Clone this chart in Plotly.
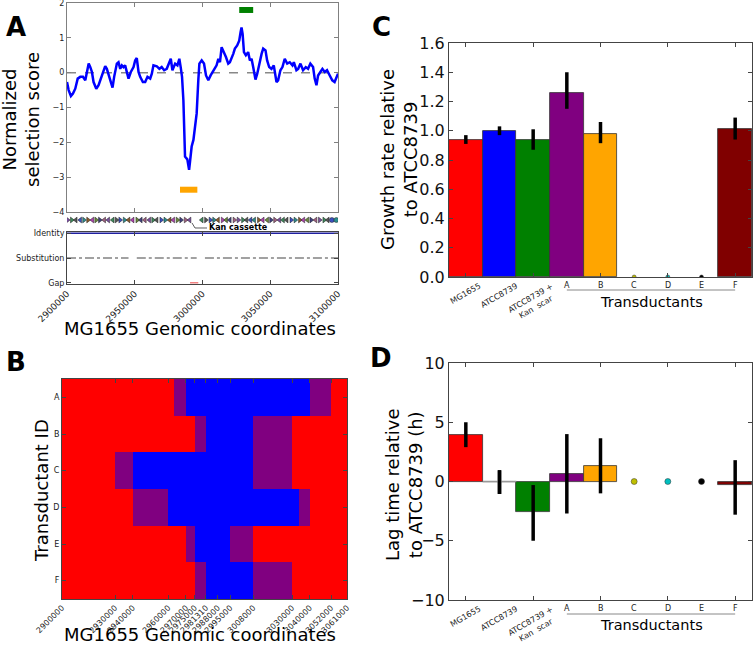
import plotly.graph_objects as go

W, H = 754, 645
FONT = "DejaVu Sans"

# ---------------- panel A: normalized selection score along the genome
score_pos = [2900000, 2901200, 2902900, 2904400, 2906100, 2907900, 2909800, 2911800, 2913500, 2914700,
             2916000, 2917200, 2918400, 2919600, 2921600, 2923300, 2925800, 2928200, 2929400, 2931400,
             2933600, 2934800, 2936800, 2938000, 2939300, 2940500, 2941700, 2942900, 2944200, 2945400,
             2947100, 2949100, 2950300, 2951500, 2952800, 2954000, 2956000, 2957700, 2959400, 2961400,
             2962600, 2963800, 2966300, 2968200, 2969900, 2971700, 2973600, 2975600, 2976600, 2977800,
             2979800, 2981500, 2982900, 2983900, 2984900, 2985900, 2986600, 2987100, 2988800, 2990100,
             2990800, 2992000, 2993300, 2994500, 2995700, 2996900, 2997700, 2999400, 3001100, 3002600,
             3004300, 3006000, 3008000, 3010400, 3011700, 3012900, 3014100, 3015800, 3017300, 3019000,
             3020200, 3022700, 3023900, 3025600, 3027100, 3028100, 3028800, 3029600, 3030600, 3032000,
             3033700, 3035000, 3036200, 3037400, 3039100, 3040400, 3041800, 3043600, 3044800, 3046500,
             3047700, 3049200, 3050900, 3052600, 3054600, 3055800, 3057500, 3059000, 3060700, 3062500,
             3064400, 3066400, 3067400, 3069300, 3070600, 3072300, 3074200, 3076200, 3077900, 3079600,
             3081600, 3082800, 3084100, 3085300, 3087000, 3088500, 3090200, 3091900, 3093900, 3095800,
             3097500, 3098800, 3100000]
score_val = [-0.27, -0.5, -0.67, -0.6, -0.46, -0.17, -0.12, -0.12, -0.22, 0.02,
             0.26, 0.16, 0.02, -0.27, -0.46, -0.36, -0.08, 0.19, 0.11, -0.12,
             -0.43, -0.12, 0.26, 0.3, 0.11, 0.21, 0.16, 0.21, 0.02, -0.17,
             0.02, 0.16, 0.35, 0.42, 0.02, -0.12, -0.27, -0.27, -0.12, -0.17,
             -0.03, 0.21, 0.18, 0.11, 0.16, 0.07, 0.11, 0.3, 0.4, 0.07,
             0.26, 0.21, 0.4, 0.16, -0.12, -0.79, -2.03, -2.41, -2.49, -2.79,
             -2.55, -2.12, -1.93, -1.55, -1.17, -0.22, 0.26, 0.35, 0.26, -0.08,
             -0.22, -0.08, 0.07, 0.21, 0.4, 0.3, 0.73, 0.59, 0.45, 0.26,
             0.3, 0.54, 0.69, 0.78, 0.92, 1.16, 1.3, 1.11, 0.59, 0.5,
             0.59, 0.35, 0.4, 0.16, -0.2, -0.03, 0.26, 0.54, 0.69, 0.64,
             0.35, 0.16, 0.11, 0.21, -0.27, -0.22, 0.07, 0.16, 0.4, 0.26,
             0.3, 0.21, 0.3, 0.07, 0.11, 0.26, 0.07, 0.16, 0.11, 0.26,
             0.16, -0.17, -0.36, -0.08, 0.02, 0.11, 0.02, 0.07, -0.08, -0.22,
             -0.27, -0.12, -0.03]

# regions marked above / below the curve
green_region = [3027100, 3037400]
green_level = 1.8
orange_region = [2983400, 2996200]
orange_level = -3.36

# gene track (kb offset from 2900000) and strand
gene_kb = [0.5, 3.5, 6.5, 9.8, 12.5, 15.5, 18.8, 21.5, 24.2, 27.5, 30.5, 33.8, 36.5, 39.2, 42.5,
           45.5, 48.5, 51.8, 54.5, 57.5, 60.8, 63.5, 66.2, 69.5, 72.5, 75.8, 78.5, 81.5, 84.2, 87.5,
           90.5, 99.5, 102.5, 105.8, 108.5, 111.5, 114.8, 117.5, 120.2, 123.5, 126.5, 129.8, 132.5,
           135.5, 138.2, 141.5, 144.5, 147.8, 150.5, 153.5, 156.8, 159.5, 162.2, 165.5, 168.5,
           171.8, 174.5, 177.5, 180.2, 183.5, 186.5, 189.8, 192.5, 195.5, 198.8]
gene_strand = ">><<>><>><<<>>><<><<<><>><<>>><<>>><><<>>><<<><<>><<<>>><<><>><"
gene_palette = ["#7a4fa0", "#3c8a5a", "#555555", "#3a4fc0", "#2a8c8c", "#8a5a2a", "#b040b0",
                "#6a8a3a", "#404080", "#a06080"]

# alignment track
subst_segments = [[2900000, 2945400], [2951500, 2995700], [3001800, 3100000]]
gap_segment = [2990800, 2996900]

# ---------------- panel B: transductant blocks
heat_edges = [2900000, 2930000, 2940000, 2960000, 2963000, 2970000, 2975000, 2981310, 2988000,
              2995000, 3008000, 3030000, 3034000, 3040000, 3052000, 3061000]
heat_ticks = [2900000, 2930000, 2940000, 2960000, 2970000, 2975000, 2981310, 2988000, 2995000,
              3008000, 3030000, 3040000, 3052000, 3061000]
transductants = ["A", "B", "C", "D", "E", "F"]
# 0 = MG1655 (red), 1 = ambiguous (purple), 2 = ATCC8739 (blue)
heat_state = [
    [0, 0, 0, 0, 1, 2, 2, 2, 2, 2, 2, 2, 2, 1, 0],
    [0, 0, 0, 0, 0, 0, 1, 2, 2, 2, 1, 0, 0, 0, 0],
    [0, 1, 2, 2, 2, 2, 2, 2, 2, 2, 1, 0, 0, 0, 0],
    [0, 0, 1, 2, 2, 2, 2, 2, 2, 2, 2, 2, 1, 0, 0],
    [0, 0, 0, 0, 0, 1, 2, 2, 2, 1, 0, 0, 0, 0, 0],
    [0, 0, 0, 0, 0, 0, 1, 2, 2, 2, 1, 0, 0, 0, 0],
]

# ---------------- panels C & D
strains = ["MG1655", "ATCC8739", "ATCC8739 +<br>Kan  scar", "A", "B", "C", "D", "E", "F"]
strain_colors = ["#ff0000", "#0000ff", "#008000", "#800080", "#ffa500", "#bfbf00", "#00bfbf",
                 "#000000", "#800000"]
growth = [0.94, 1.00, 0.94, 1.26, 0.98, 0.0, 0.0, 0.0, 1.01]
growth_hi = [0.03, 0.03, 0.07, 0.14, 0.08, 0, 0, 0, 0.08]
growth_lo = [0.03, 0.03, 0.07, 0.11, 0.065, 0, 0, 0, 0.07]
lag = [3.9, 0.0, -2.6, 0.65, 1.35, 0.0, 0.0, 0.0, -0.3]
lag_hi = [1.1, 0.95, 2.3, 3.35, 2.3, 0, 0, 0, 2.1]
lag_lo = [1.0, 1.05, 2.4, 3.35, 2.35, 0, 0, 0, 2.5]
no_growth = [5, 6, 7]  # C, D, E did not grow -> drawn as dots


def px(x):
    return x / W


def py(y):
    return 1 - y / H


fig = go.Figure()

# A: curve and markers
fig.add_trace(go.Scatter(x=[2900000, 3100000], y=[0, 0], mode="lines",
                         line=dict(color="#888888", width=1.5, dash="dash"), xaxis="x", yaxis="y"))
fig.add_trace(go.Scatter(x=score_pos, y=score_val, mode="lines",
                         line=dict(color="#0000ff", width=2.5), xaxis="x", yaxis="y"))
fig.add_trace(go.Scatter(x=green_region, y=[green_level] * 2, mode="lines",
                         line=dict(color="#008000", width=6), xaxis="x", yaxis="y"))
fig.add_trace(go.Scatter(x=orange_region, y=[orange_level] * 2, mode="lines",
                         line=dict(color="#ffa500", width=6), xaxis="x", yaxis="y"))

# A: gene track
gx = [2900000 + k * 1000 for k in gene_kb]
gsym = ["triangle-right" if s == ">" else "triangle-left" for s in gene_strand]
gcol = [gene_palette[i % len(gene_palette)] for i in range(len(gene_kb))]
fig.add_trace(go.Scatter(x=gx, y=[0] * len(gx), mode="markers",
                         marker=dict(symbol=gsym, size=5, color=gcol, line=dict(color="#222", width=0.5)),
                         xaxis="x2", yaxis="y2"))

# A: alignment track
fig.add_trace(go.Scatter(x=[2900000, 3100000], y=[2, 2], mode="lines",
                         line=dict(color="#2020a0", width=1.5), xaxis="x3", yaxis="y3"))
for seg in subst_segments:
    fig.add_trace(go.Scatter(x=seg, y=[1, 1], mode="lines",
                             line=dict(color="#444444", width=1.2, dash="dashdot"), xaxis="x3", yaxis="y3"))
fig.add_trace(go.Scatter(x=gap_segment, y=[0, 0], mode="lines",
                         line=dict(color="#f08080", width=1.5), xaxis="x3", yaxis="y3"))

# B: heatmap
fig.add_trace(go.Heatmap(x=heat_edges, y=transductants, z=heat_state, zmin=0, zmax=2,
                         colorscale=[[0, "#ff0000"], [0.25, "#ff0000"], [0.25, "#800080"],
                                     [0.75, "#800080"], [0.75, "#0000ff"], [1, "#0000ff"]],
                         showscale=False, xaxis="x4", yaxis="y4"))

# C and D bars
idx = list(range(len(strains)))
for vals, hi, lo, xa, ya in [(growth, growth_hi, growth_lo, "x5", "y5"),
                             (lag, lag_hi, lag_lo, "x6", "y6")]:
    bx = [i for i in idx if i not in no_growth]
    fig.add_trace(go.Bar(x=bx, y=[vals[i] for i in bx], width=1,
                         marker=dict(color=[strain_colors[i] for i in bx],
                                     line=dict(color="#333333", width=0.8)),
                         error_y=dict(type="data", symmetric=False, array=[hi[i] for i in bx],
                                      arrayminus=[lo[i] for i in bx], thickness=3.5, width=0,
                                      color="black"),
                         xaxis=xa, yaxis=ya))
    dot_size = 4 if xa == "x5" else 6
    fig.add_trace(go.Scatter(x=no_growth, y=[vals[i] for i in no_growth], mode="markers",
                             marker=dict(size=dot_size, color=[strain_colors[i] for i in no_growth],
                                         line=dict(color="#333333", width=0.5)),
                             xaxis=xa, yaxis=ya))
# zero-height ATCC8739 bar edge in D
fig.add_trace(go.Scatter(x=[0.5, 1.5], y=[lag[1]] * 2, mode="lines",
                         line=dict(color="#999999", width=1.5), xaxis="x6", yaxis="y6"))
# re-draw its error bar on top
fig.add_trace(go.Scatter(x=[1], y=[lag[1]], mode="markers", marker=dict(size=1, color="black"),
                         error_y=dict(type="data", symmetric=False, array=[lag_hi[1]],
                                      arrayminus=[lag_lo[1]], thickness=3.5, width=0, color="black"),
                         xaxis="x6", yaxis="y6"))

frame = dict(showline=True, mirror="ticks", linecolor="#444444", linewidth=1, ticks="inside",
             ticklen=4, tickcolor="#444444", showgrid=False, zeroline=False, automargin=False,
             ticklabeloverflow="allow")
frame_a = dict(frame, linecolor="#808080", tickcolor="#808080")
small = dict(family=FONT, size=8, color="#222222")
big = dict(family=FONT, size=16, color="#111111")

fig.update_layout(
    width=W, height=H, margin=dict(l=0, r=0, t=0, b=0, autoexpand=False), showlegend=False,
    paper_bgcolor="white", plot_bgcolor="white", bargap=0,
    font=dict(family=FONT),
    xaxis=dict(domain=[px(67), px(338)], range=[2900000, 3100000], dtick=50000,
               showticklabels=False, anchor="y", **frame_a),
    yaxis=dict(domain=[py(212), py(3)], range=[-4, 2.0001], tickvals=[-4, -3, -2, -1, 0, 1, 2],
               tickfont=small, anchor="x", **frame_a),
    xaxis2=dict(domain=[px(67), px(338)], range=[2900000, 3100000], visible=False, anchor="y2",
                automargin=False),
    yaxis2=dict(domain=[py(226), py(214)], range=[-1, 1], visible=False, anchor="x2",
                automargin=False),
    xaxis3=dict(domain=[px(67), px(338)], range=[2900000, 3100000], dtick=50000, tickangle=-45,
                tickformat="d", tickfont=dict(family=FONT, size=9, color="#222"), anchor="y3", **frame),
    yaxis3=dict(domain=[py(284), py(232)], range=[-0.05, 2.05], tickvals=[0, 1, 2],
                ticktext=["Gap", "Substitution", "Identity"], tickfont=small, anchor="x3", **frame),
    xaxis4=dict(domain=[px(62), px(347)], range=[2900000, 3061000], tickvals=heat_ticks,
                tickformat="d", tickangle=-45, tickfont=small, anchor="y4", **frame),
    yaxis4=dict(domain=[py(599), py(379)], autorange="reversed", tickfont=small, anchor="x4", **frame),
    xaxis5=dict(domain=[px(449), px(752)], range=[-0.5, 8.5], showticklabels=False, anchor="y5",
                **frame),
    yaxis5=dict(domain=[py(277), py(43)], range=[0, 1.6], dtick=0.2, tickformat=".1f", tickfont=big,
                anchor="x5", **frame),
    xaxis6=dict(domain=[px(449), px(752)], range=[-0.5, 8.5], showticklabels=False, anchor="y6",
                **frame),
    yaxis6=dict(domain=[py(600), py(363)], range=[-10, 10], dtick=5, tickfont=big, anchor="x6",
                **frame),
)

ann = []
bold = dict(family="DejaVu Sans", size=26, color="black")
for lab, x, y in [("A", 16, 27), ("B", 16, 362), ("C", 381, 27), ("D", 381, 358)]:
    ann.append(dict(text="<b>%s</b>" % lab, x=px(x), y=py(y), xref="paper", yref="paper",
                    showarrow=False, font=bold, xanchor="center", yanchor="middle"))

title_font = dict(family=FONT, size=18, color="black")
for txt, x, y, ang in [("Normalized<br>selection score", 21, 120, -90),
                       ("MG1655 Genomic coordinates", 200, 329, 0),
                       ("Transductant ID", 41, 491, -90),
                       ("MG1655 Genomic coordinates", 200, 634, 0),
                       ("Growth rate relative<br>to ATCC8739", 399, 160, -90),
                       ("Lag time relative<br>to ATCC8739 (h)", 404, 485, -90)]:
    ann.append(dict(text=txt, x=px(x), y=py(y), xref="paper", yref="paper", showarrow=False,
                    font=title_font, textangle=ang, xanchor="center", yanchor="middle"))

ann.append(dict(text="<b>Kan cassette</b>", x=px(207), y=py(227), xref="paper", yref="paper",
                showarrow=False, font=dict(family=FONT, size=8, color="black"),
                xanchor="left", yanchor="middle"))

# C / D category labels and the Transductants bracket
shapes = [dict(type="path", path="M %f %f L %f %f L %f %f" % (px(192), py(223), px(195), py(228),
                                                              px(207), py(228)),
               xref="paper", yref="paper", line=dict(color="#333", width=0.8))]
for xa, label_top, line_y, text_y in [("x5", 279, 290, 302), ("x6", 602, 614, 625)]:
    for i, s in enumerate(strains):
        if i < 3:
            ann.append(dict(text=s, x=i, y=py(label_top), xref=xa, yref="paper", showarrow=False,
                            font=small, textangle=-30, xanchor="center", yanchor="top"))
        else:
            ann.append(dict(text=s, x=i, y=py(label_top), xref=xa, yref="paper", showarrow=False,
                            font=small, xanchor="center", yanchor="top"))
    shapes.append(dict(type="line", x0=3, x1=8, y0=py(line_y), y1=py(line_y), xref=xa,
                       yref="paper", line=dict(color="#888888", width=1)))
    ann.append(dict(text="Transductants", x=5.5, y=py(text_y), xref=xa, yref="paper",
                    showarrow=False, font=dict(family=FONT, size=14.5, color="black"),
                    xanchor="center", yanchor="middle"))

fig.update_layout(annotations=ann, shapes=shapes)
# the page's default 8px body margin would shift the whole figure
fig.write_html("out.html", config={"displayModeBar": False},
               post_script="document.body.style.margin='0px';")
